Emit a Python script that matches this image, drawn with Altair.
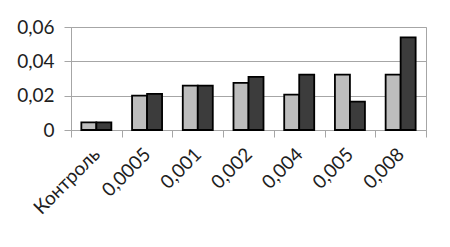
import altair as alt
import pandas as pd

categories = ["Контроль", "0,0005", "0,001", "0,002", "0,004", "0,005", "0,008"]
series_a = [0.0045, 0.0200, 0.0258, 0.0274, 0.0206, 0.0322, 0.0322]
series_b = [0.0045, 0.0210, 0.0258, 0.0310, 0.0322, 0.0165, 0.0540]
series_names = ["Серия 1", "Серия 2"]
y_ticks = [0, 0.02, 0.04, 0.06]

rows = []
for c, a, b in zip(categories, series_a, series_b):
    rows.append({"cat": c, "series": series_names[0], "value": a})
    rows.append({"cat": c, "series": series_names[1], "value": b})
df = pd.DataFrame(rows)

bars = alt.Chart(df).mark_bar(stroke="black", strokeWidth=1.8).encode(
    x=alt.X("cat:N", sort=categories, title=None,
            scale=alt.Scale(paddingInner=0, paddingOuter=0),
            axis=alt.Axis(labelAngle=-45, labelAlign="right", labelBaseline="middle",
                          labelPadding=14, tickSize=7, tickBand="extent",
                          domainColor="#a6a6a6", tickColor="#a6a6a6",
                          labelFontSize=19)),
    xOffset=alt.XOffset("series:N", scale=alt.Scale(paddingOuter=0.69, paddingInner=0)),
    y=alt.Y("value:Q", title=None,
            scale=alt.Scale(domain=[0, 0.06], nice=False),
            axis=alt.Axis(values=y_ticks, tickSize=7, labelPadding=10,
                          labelExpr="datum.value == 0 ? '0' : replace(format(datum.value, '.2f'), '.', ',')",
                          gridColor="#a6a6a6", domainColor="#a6a6a6", tickColor="#a6a6a6",
                          labelFontSize=19)),
    fill=alt.Fill("series:N", legend=None,
                  scale=alt.Scale(domain=series_names, range=["#bdbdbd", "#3c3c3c"])),
)

chart = bars.properties(
    width=355, height=103,
    autosize=alt.AutoSizeParams(type="none"),
    padding={"left": 63, "top": 19, "right": 16, "bottom": 100},
).configure_axis(
    labelFont="Lato", labelColor="#1e1e1e", grid=False, domainWidth=1, tickWidth=1,
).configure_axisY(grid=True, gridWidth=1).configure_view(stroke="#a6a6a6", strokeWidth=1)

chart.save("out.html", embed_options={"renderer": "svg", "actions": False})
